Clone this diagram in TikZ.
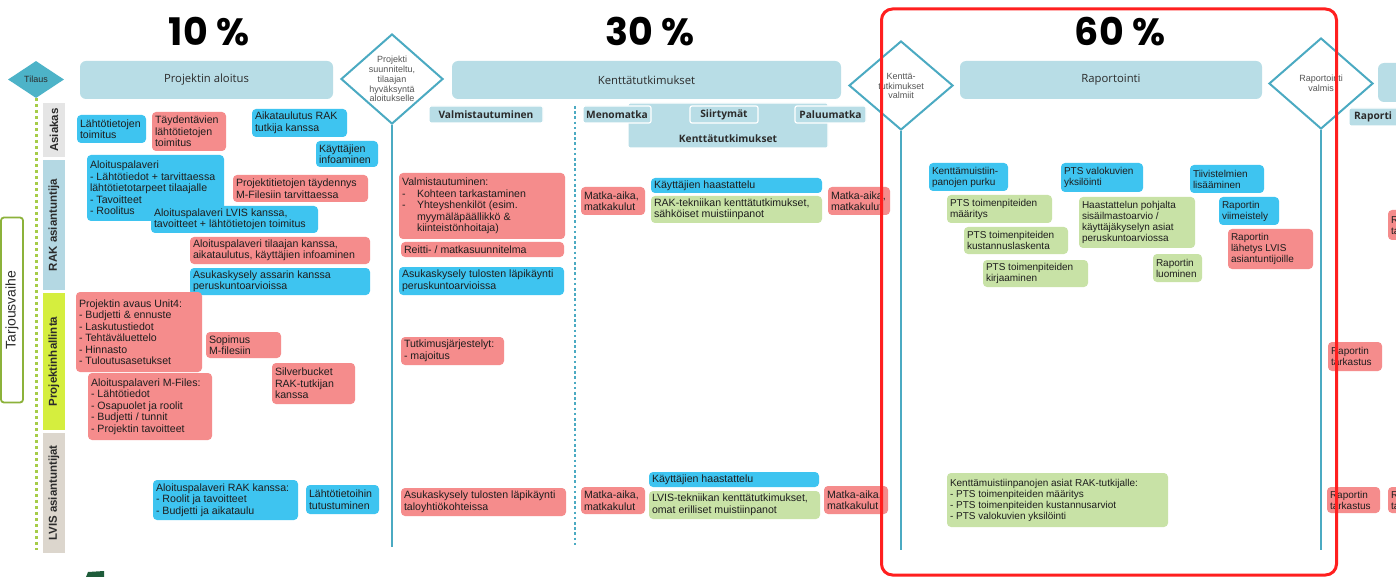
\documentclass[tikz,border=0pt]{standalone}
\usepackage{fontspec}
\setmainfont{Liberation Sans}
\newfontfamily\pctfont{Poppins}
\newfontfamily\hdrfont{Open Sans}
\usetikzlibrary{shapes.geometric}
\definecolor{cHead}{HTML}{B8DDE6}
\definecolor{cTeal}{HTML}{4BAAC2}
\definecolor{cTealF}{HTML}{4DB3C8}
\definecolor{cBlue}{HTML}{3EC4F0}
\definecolor{cRed}{HTML}{F58C8C}
\definecolor{cGreen}{HTML}{C8E2A6}
\definecolor{cText}{HTML}{1E1E1E}
\definecolor{cGray}{HTML}{555555}
\definecolor{cHtext}{HTML}{2B2B2B}
\definecolor{cLaneA}{HTML}{E5E5E5}
\definecolor{cLaneR}{HTML}{B4D8E3}
\definecolor{cLaneP}{HTML}{D5EE3E}
\definecolor{cLaneL}{HTML}{DCD6CD}
\definecolor{cLime}{HTML}{A6CC48}
\definecolor{cOlive}{HTML}{8CB23A}
\definecolor{cFrame}{HTML}{FF1F1F}
\definecolor{cDark}{HTML}{1E5C3A}
\newcommand\bxfont{\fontsize{10.6}{11.5}\selectfont}
\newcommand\mkbox[7]{%
  \pgfmathsetmacro\bxw{#5-#3}\pgfmathsetmacro\bxh{#6-#4}%
  \node[#2, minimum width=\bxw pt, minimum height=\bxh pt] (#1) at ({(#3+#5)/2},{(#4+#6)/2}) {};
  \node[txt] (#1t) at ([xshift=3pt]#1.west) {#7};}
\begin{document}
\begin{tikzpicture}[x=1pt,y=-1pt,
  bx/.style={rounded corners=4pt, inner sep=0pt},
  bl/.style={bx, fill=cBlue}, rd/.style={bx, fill=cRed}, gr/.style={bx, fill=cGreen},
  txt/.style={anchor=west, align=left, inner sep=0pt, font=\bxfont, text=cText},
  hdr/.style={fill=cHead, rounded corners=6pt, inner sep=0pt, font=\hdrfont\fontsize{11.3}{13}\selectfont, text=cHtext},
  sub/.style={fill=cHead, draw=white, line width=1.2pt, rounded corners=2pt, inner sep=0pt, font=\hdrfont\bfseries\fontsize{10.2}{12}\selectfont, text=cHtext},
  subtxt/.style={inner sep=0pt, font=\hdrfont\bfseries\fontsize{10.2}{12}\selectfont, text=cHtext},
  dm/.style={diamond, draw=cTeal, line width=2pt, fill=white, inner sep=0pt},
  dtxt/.style={align=center, inner sep=0pt, font=\fontsize{9}{9.8}\selectfont, text=cGray},
  vl/.style={draw=cTeal, line width=2.6pt},
  lane/.style={rotate=90, inner sep=0pt, minimum height=22pt, font=\bfseries\fontsize{11.5}{12}\selectfont, text=cHtext},
  pct/.style={font=\pctfont\bfseries\fontsize{38}{38}\selectfont, inner sep=0pt}
]
\useasboundingbox (0,0) rectangle (1396,577);
\fill[white] (0,0) rectangle (1396,577);

% percentages
\node[pct] (p10) at (209,32) {10 \%};
\node[pct] (p30) at (650,32) {30 \%};
\node[pct] (p60) at (1120,32) {60 \%};

% Tarjousvaihe
\node[draw=cOlive, line width=1.8pt, rounded corners=3pt, rotate=90, minimum width=185pt, minimum height=22pt, inner sep=0pt, font=\fontsize{14}{15}\selectfont, text=cHtext] (tv) at (12,310) {Tarjousvaihe};

% Tilaus + dotted lime line
\coordinate (tilE) at (36,550);
\node[diamond, fill=cTealF, inner sep=0pt, minimum width=56pt, minimum height=37pt] (til) at (36,79.5) {};
\draw[draw=cLime, line width=3pt, dash pattern=on 3pt off 3pt] (til.south) -- (tilE);
\node[dtxt, text=cHtext] (tilt) at (til) {Tilaus};

% lanes
\node[lane, fill=cLaneA, minimum width=54pt] (la) at (54,130) {Asiakas};
\node[lane, fill=cLaneR, minimum width=130pt] (lr) at (54,225) {RAK asiantuntija};
\node[lane, fill=cLaneP, minimum width=137pt] (lp) at (54,361.5) {Projektinhallinta};
\node[lane, fill=cLaneL, minimum width=120pt] (ll) at (54,493) {LVIS asiantuntijat};

% header bars
\node[hdr, minimum width=253pt, minimum height=38pt] (h1) at (206.5,80) {Projektin aloitus};
\node[hdr, minimum width=389pt, minimum height=38pt] (h2) at (646.5,80) {Kenttätutkimukset};
\node[hdr, minimum width=302pt, minimum height=38pt] (h3) at (1111,80) {Raportointi};
\node[hdr, minimum width=44pt, minimum height=39pt] (h4) at (1400,82.5) {};

% milestone diamonds and their lines
\coordinate (dAe) at (392,547);
\coordinate (dBe) at (901,550);
\coordinate (dCe) at (1321,550);
\node[dm, minimum width=102pt, minimum height=90pt] (dA) at (392,79) {};
\node[dm, minimum width=104pt, minimum height=89pt] (dB) at (901,85.5) {};
\node[dm, minimum width=104pt, minimum height=91pt] (dC) at (1321,83.5) {};
\draw[vl] (dA.south) -- (dAe);
\draw[vl] (dB.south) -- (dBe);
\draw[vl] (dC.south) -- (dCe);
\node[dtxt] (dAt) at (392,79) {Projekti\\suunniteltu,\\tilaajan\\hyväksyntä\\aloitukselle};
\node[dtxt] (dBt) at (901,86) {Kenttä-\\tutkimukset\\valmiit};
\node[dtxt] (dCt) at (1321,83) {Raportointi\\valmis};

% dotted separator in field studies
\coordinate (dt1) at (575,106);
\coordinate (dt2) at (575,545);
\draw[draw=cTeal, line width=2.6pt, dash pattern=on 2.6pt off 2.6pt] (dt1) -- (dt2);

% sub headers
\node[sub, minimum width=200pt, minimum height=45pt] (s5) at (728,125.5) {};
\node[subtxt] (s5t) at (728,139) {Kenttätutkimukset};
\node[sub, minimum width=114pt, minimum height=17pt] (s1) at (486,114.5) {Valmistautuminen};
\node[sub, minimum width=68pt, minimum height=17pt] (s2) at (617,114.5) {Menomatka};
\node[sub, minimum width=68pt, minimum height=17pt] (s3) at (724,114.5) {Siirtymät};
\node[sub, minimum width=71pt, minimum height=17pt] (s4) at (830.5,114.5) {Paluumatka};
\node[sub, minimum width=71pt, minimum height=18pt] (s6) at (1384.5,117) {};
\node[subtxt, anchor=west] (s6t) at (1354,117) {Raporti};

% 10 % section
\mkbox{b1}{bl}{77}{115}{146}{143}{Lähtötietojen\\toimitus}
\mkbox{b2}{rd}{152}{112}{226}{151}{Täydentävien\\lähtötietojen\\toimitus}
\mkbox{b3}{bl}{252}{109}{347}{137}{Aikataulutus RAK\\tutkija kanssa}
\mkbox{b4}{bl}{316}{141}{378}{167}{Käyttäjien\\infoaminen}
\mkbox{b5}{bl}{87}{155}{224}{221}{Aloituspalaveri\\- Lähtötiedot + tarvittaessa\\lähtötietotarpeet tilaajalle\\- Tavoitteet\\- Roolitus}
\mkbox{b6}{rd}{233}{175}{368}{202}{Projektitietojen täydennys\\M-Filesiin tarvittaessa}
\mkbox{b7}{bl}{151}{206}{318}{233}{Aloituspalaveri LVIS kanssa,\\tavoitteet + lähtötietojen toimitus}
\mkbox{b8}{rd}{190}{237}{370}{264}{Aloituspalaveri tilaajan kanssa,\\aikataulutus, käyttäjien infoaminen}
\mkbox{b9}{bl}{190}{268}{370}{295}{Asukaskysely assarin kanssa\\peruskuntoarvioissa}
\mkbox{b10}{rd}{76}{292}{202}{372}{Projektin avaus Unit4:\\- Budjetti \& ennuste\\- Laskutustiedot\\- Tehtäväluettelo\\- Hinnasto\\- Tuloutusasetukset}
\mkbox{b11}{rd}{206}{332}{281}{358}{Sopimus\\M-filesiin}
\mkbox{b12}{rd}{272}{363}{355}{404}{Silverbucket\\RAK-tutkijan\\kanssa}
\mkbox{b13}{rd}{88}{373}{212}{440}{Aloituspalaveri M-Files:\\- Lähtötiedot\\- Osapuolet ja roolit\\- Budjetti / tunnit\\- Projektin tavoitteet}
\mkbox{b14}{bl}{153}{480}{298}{520}{Aloituspalaveri RAK kanssa:\\- Roolit ja tavoitteet\\- Budjetti ja aikataulu}
\mkbox{b15}{bl}{306}{485}{379}{514}{Lähtötietoihin\\tutustuminen}

% 30 % section
\mkbox{c1}{rd}{399}{173}{565}{239}{Valmistautuminen:\\\makebox[15pt][l]{-}Kohteen tarkastaminen\\\makebox[15pt][l]{-}Yhteyshenkilöt (esim.\\\hspace*{15pt}myymäläpäällikkö \&\\\hspace*{15pt}kiinteistönhoitaja)}
\mkbox{c2}{rd}{401}{242}{564}{257}{Reitti- / matkasuunnitelma}
\mkbox{c3}{bl}{399}{267}{564}{295}{Asukaskysely tulosten läpikäynti\\peruskuntoarvioissa}
\mkbox{c4}{rd}{401}{337}{504}{365}{Tutkimusjärjestelyt:\\- majoitus}
\mkbox{c5}{rd}{581}{187}{645}{215}{Matka-aika,\\matkakulut}
\mkbox{c6}{bl}{651}{178}{822}{193}{Käyttäjien haastattelu}
\mkbox{c7}{gr}{651}{196}{822}{223}{RAK-tekniikan kenttätutkimukset,\\sähköiset muistiinpanot}
\mkbox{c8}{rd}{828}{187}{890}{215}{Matka-aika,\\matkakulut}
\mkbox{c9}{rd}{401}{488}{566}{516}{Asukaskysely tulosten läpikäynti\\taloyhtiökohteissa}
\mkbox{c10}{rd}{581}{487}{645}{514}{Matka-aika,\\matkakulut}
\mkbox{c11}{bl}{649}{472}{819}{487}{Käyttäjien haastattelu}
\mkbox{c12}{gr}{649}{491}{820}{519}{LVIS-tekniikan kenttätutkimukset,\\omat erilliset muistiinpanot}
\mkbox{c13}{rd}{824}{486}{888}{514}{Matka-aika,\\matkakulut}

% 60 % section
\renewcommand\bxfont{\fontsize{10}{11}\selectfont}
\mkbox{d1}{bl}{929}{163}{1008}{191}{Kenttämuistiin-\\panojen purku}
\mkbox{d2}{bl}{1061}{163}{1143}{192}{PTS valokuvien\\yksilöinti}
\mkbox{d3}{bl}{1190}{165}{1264}{193}{Tiivistelmien\\lisääminen}
\mkbox{d4}{gr}{947}{195}{1052}{223}{PTS toimenpiteiden\\määritys}
\mkbox{d5}{gr}{1079}{197}{1195}{248}{Haastattelun pohjalta\\sisäilmastoarvio /\\käyttäjäkyselyn asiat\\peruskuntoarviossa}
\mkbox{d6}{bl}{1219}{197}{1279}{225}{Raportin\\viimeistely}
\mkbox{d7}{gr}{964}{227}{1068}{254}{PTS toimenpiteiden\\kustannuslaskenta}
\mkbox{d8}{rd}{1228}{229}{1313}{269}{Raportin\\lähetys LVIS\\asiantuntijoille}
\mkbox{d9}{gr}{983}{260}{1088}{287}{PTS toimenpiteiden\\kirjaaminen}
\mkbox{d10}{gr}{1153}{254}{1202}{282}{Raportin\\luominen}
\mkbox{d11}{gr}{947}{473}{1168}{527}{Kenttämuistiinpanojen asiat RAK-tutkijalle:\\- PTS toimenpiteiden määritys\\- PTS toimenpiteiden kustannusarviot\\- PTS valokuvien yksilöinti}
\mkbox{d12}{rd}{1328}{342}{1382}{371}{Raportin\\tarkastus}
\mkbox{d13}{rd}{1327}{487}{1380}{513}{Raportin\\tarkastus}
\mkbox{d14}{rd}{1388}{487}{1440}{513}{Raportin\\tarkastus}
\mkbox{d15}{rd}{1388}{210}{1440}{240}{Raportin\\tarkastus}

% logo fragment
\fill[cDark] (86,577) -- (88,572) -- (104,571) -- (104,577) -- cycle;

% red highlight frame
\node[draw=cFrame, line width=3pt, rounded corners=11pt, minimum width=455pt, minimum height=566pt, inner sep=0pt] (frm) at (1109,292) {};
\end{tikzpicture}
\end{document}
